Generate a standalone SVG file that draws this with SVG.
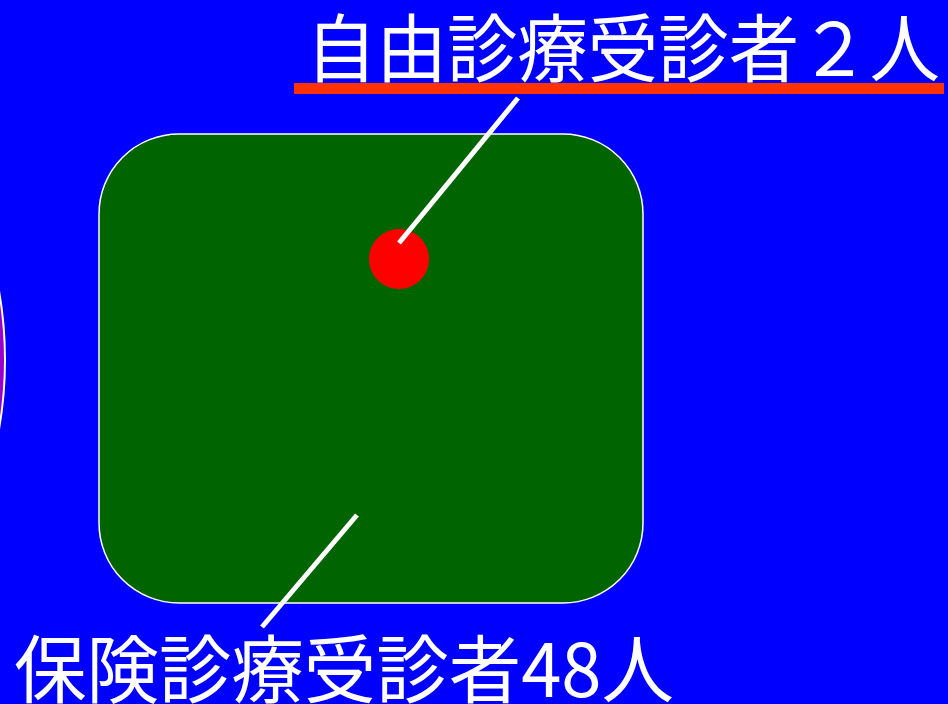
<svg xmlns="http://www.w3.org/2000/svg" width="948" height="704" viewBox="0 0 948 704">
<style>
.lbl{font-family:"Noto Sans CJK JP","Liberation Sans",sans-serif;font-size:74px;fill:#ffffff}
.conn{stroke:#ffffff;stroke-width:5;fill:none}
</style>
<rect x="0" y="0" width="948" height="704" fill="#0000ff"/>
<g id="outer-circle"><circle cx="-395" cy="360" r="400" fill="#9900cc" stroke="#ffffff" stroke-width="2"/></g>
<g id="insurance-box"><rect x="99" y="134" width="544" height="469" rx="80" ry="80" fill="#006400" stroke="#ffffff" stroke-width="1.5"/></g>
<g id="free-dot"><circle cx="399" cy="259" r="30" fill="#ff0000"/></g>
<g id="connectors">
<line class="conn" x1="518" y1="98" x2="399" y2="243"/>
<line class="conn" x1="357" y1="515" x2="262" y2="627"/>
</g>
<g id="free-label">
<text class="lbl" x="306" y="76" textLength="634" lengthAdjust="spacingAndGlyphs">自由診療受診者２人</text>
<rect x="294" y="83" width="650" height="11" fill="#ff3300"/>
</g>
<g id="insurance-label">
<text class="lbl" x="14" y="697" textLength="660" lengthAdjust="spacingAndGlyphs">保険診療受診者48人</text>
</g>
</svg>
